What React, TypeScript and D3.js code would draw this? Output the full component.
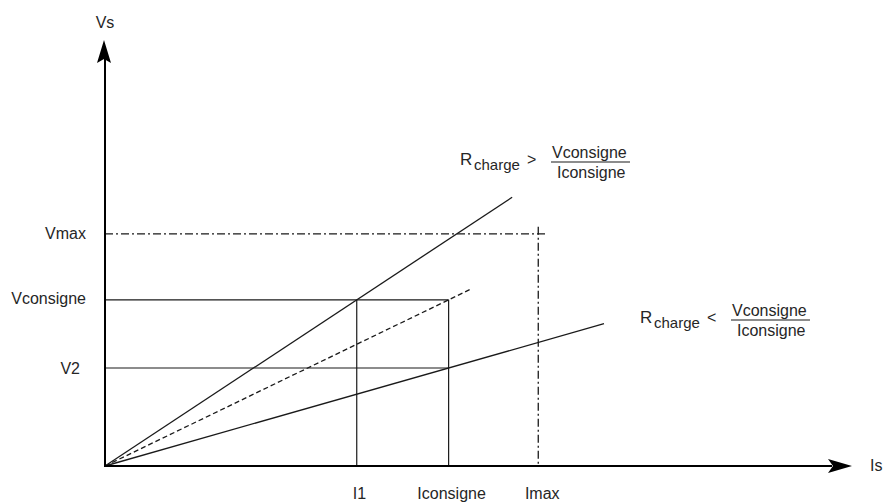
import React from "react";
import { scaleLinear, line } from "d3";

// currents on the Is axis (arbitrary units)
const currentLabels = ["I1", "Iconsigne", "Imax"];
const currentValues = [3.37, 4.6, 5.8];

// voltages on the Vs axis
const voltageLabels = ["Vmax", "Vconsigne", "V2"];
const voltageValues = [5.45, 3.9, 2.3];

// load lines: where each one stops along Is
const loadLineNames = ["high", "nominal", "low"];
const loadLineEnds = [5.45, 4.91, 6.68];

const annotationTexts = [">", "<"];

const W = 885;
const H = 504;
const X0 = 105;
const Y0 = 466;
const FONT = "'Liberation Sans', Arial, Helvetica, sans-serif";
const INK = "#1a1a1a";
const TXT = "#262626";

const Fraction: React.FC<{ x: number; y: number; sign: string }> = ({
  x,
  y,
  sign
}) => (
  <g fontFamily={FONT} fill={TXT}>
    <text x={x} y={y} fontSize={17}>
      R
    </text>
    <text x={x + 14} y={y + 5} fontSize={15}>
      charge
    </text>
    <text x={x + 67} y={y} fontSize={16}>
      {sign}
    </text>
    <text x={x + 92} y={y - 7} fontSize={16}>
      Vconsigne
    </text>
    <line
      x1={x + 91}
      x2={x + 170}
      y1={y - 3}
      y2={y - 3}
      stroke={INK}
      strokeWidth={1.2}
    />
    <text x={x + 97} y={y + 13} fontSize={16}>
      Iconsigne
    </text>
  </g>
);

export default function App() {
  const x = scaleLinear().domain([0, 10]).range([X0, 852]);
  const y = scaleLinear().domain([0, 10]).range([Y0, 40]);

  const [I1, Icons, Imax] = currentValues;
  const [Vmax, Vcons, V2] = voltageValues;
  const slopes: Record<string, number> = {
    high: Vcons / I1,
    nominal: Vcons / Icons,
    low: V2 / Icons
  };

  const lineFn = line<[number, number]>()
    .x(d => x(d[0]))
    .y(d => y(d[1]));

  const bottomLabel = [
    { dx: -4, anchor: "start" },
    { dx: 3, anchor: "middle" },
    { dx: 4, anchor: "middle" }
  ];
  const leftLabelX = [86, 86, 80];
  const leftLabelDy = [5, 4, 6];

  return (
    <svg
      width={W}
      height={H}
      style={{ position: "absolute", left: 0, top: 0, background: "#fff" }}
    >
      {/* load lines */}
      {loadLineNames.map((n, i) => (
        <path
          key={n}
          d={lineFn([
            [0, 0],
            [loadLineEnds[i], slopes[n] * loadLineEnds[i]]
          ])!}
          stroke={INK}
          strokeWidth={1.3}
          fill="none"
          strokeDasharray={n === "nominal" ? "5 3" : undefined}
        />
      ))}

      {/* Vconsigne / V2 horizontals, I1 / Iconsigne verticals */}
      <line x1={X0} x2={x(Icons)} y1={y(Vcons)} y2={y(Vcons)} stroke={INK} strokeWidth={1.2} />
      <line x1={X0} x2={x(Icons)} y1={y(V2)} y2={y(V2)} stroke={INK} strokeWidth={1.2} />
      <line x1={x(I1)} x2={x(I1)} y1={y(Vcons)} y2={Y0} stroke={INK} strokeWidth={1.2} />
      <line x1={x(Icons)} x2={x(Icons)} y1={y(Vcons)} y2={Y0} stroke={INK} strokeWidth={1.2} />

      {/* limits, dash-dot */}
      <line
        x1={X0}
        x2={x(Imax) + 7}
        y1={y(Vmax)}
        y2={y(Vmax)}
        stroke={INK}
        strokeWidth={1.3}
        strokeDasharray="8 3 2 3"
      />
      <line
        x1={x(Imax)}
        x2={x(Imax)}
        y1={y(Vmax) - 7}
        y2={Y0}
        stroke={INK}
        strokeWidth={1.3}
        strokeDasharray="8 3 2 3"
      />

      {/* axes */}
      <line x1={X0} x2={X0} y1={Y0 + 1} y2={58} stroke="#000" strokeWidth={2} />
      <line x1={X0 - 1} x2={832} y1={Y0} y2={Y0} stroke="#000" strokeWidth={2} />
      <path d={`M${X0 - 1},40 L${X0 + 6},63 L${X0 - 1},59 L${X0 - 8},63 Z`} fill="#000" />
      <path d={`M852,${Y0} L828,${Y0 - 7} L833,${Y0} L828,${Y0 + 7} Z`} fill="#000" />

      <g fontFamily={FONT} fill={TXT} fontSize={16}>
        <text x={X0} y={28} textAnchor="middle">
          Vs
        </text>
        <text x={870} y={471}>
          Is
        </text>

        {currentLabels.map((l, i) => (
          <text
            key={l}
            x={x(currentValues[i]) + bottomLabel[i].dx}
            y={499}
            textAnchor={bottomLabel[i].anchor as any}
          >
            {l}
          </text>
        ))}

        {voltageLabels.map((l, i) => (
          <text
            key={l}
            x={leftLabelX[i]}
            y={y(voltageValues[i]) + leftLabelDy[i]}
            textAnchor="end"
          >
            {l}
          </text>
        ))}
      </g>

      <Fraction x={460} y={165} sign={annotationTexts[0]} />
      <Fraction x={640} y={323} sign={annotationTexts[1]} />
    </svg>
  );
}
